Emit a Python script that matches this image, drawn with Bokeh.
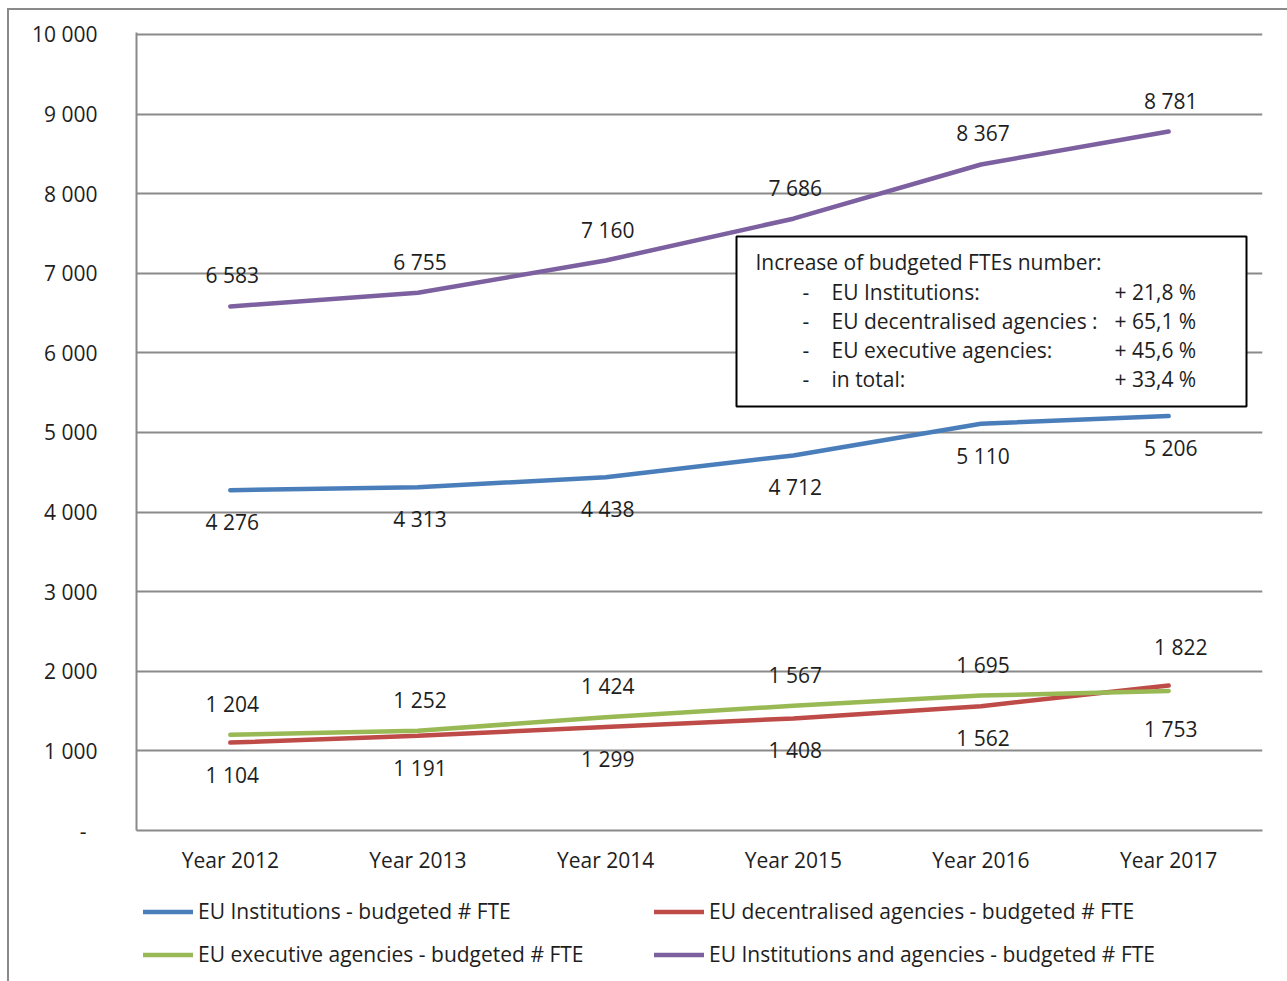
from bokeh.plotting import figure
from bokeh.layouts import column
from bokeh.models import (Range1d, FixedTicker, ColumnDataSource, Legend, LegendItem,
                          BoxAnnotation, Label)
from bokeh.core.properties import value
from bokeh.embed import file_html
from bokeh.resources import INLINE

# ---- data ----
years = ["Year 2012", "Year 2013", "Year 2014", "Year 2015", "Year 2016", "Year 2017"]
institutions = [4276, 4313, 4438, 4712, 5110, 5206]
decentralised = [1104, 1191, 1299, 1408, 1562, 1822]
executive = [1204, 1252, 1424, 1567, 1695, 1753]
total = [6583, 6755, 7160, 7686, 8367, 8781]

series_names = [
    "EU Institutions - budgeted # FTE",
    "EU decentralised agencies - budgeted # FTE",
    "EU executive agencies - budgeted # FTE",
    "EU Institutions and agencies - budgeted # FTE",
]
y_ticks = [0, 1000, 2000, 3000, 4000, 5000, 6000, 7000, 8000, 9000, 10000]

box_title = "Increase of budgeted FTEs number:"
increase_labels = ["EU Institutions:", "EU decentralised agencies :",
                   "EU executive agencies:", "in total:"]
increase_values = ["+ 21,8 %", "+ 65,1 %", "+ 45,6 %", "+ 33,4 %"]

# ---- style ----
FONT = "Open Sans"
FS = "21px"
TXT = "#1e1e1e"
GRID = "#8a8a8a"
BLUE, RED, GREEN, PURPLE = "#4A7EBB", "#BE4B48", "#98B954", "#7D60A0"
colors = [BLUE, RED, GREEN, PURPLE]
LINE_W = 4.5

# page offset of the canvas (outer chart border drawn with CSS)
OX, OY = 9, 10
Y_TOP = 10025          # a little headroom so the 10 000 gridline is fully visible
FRAME_W, FRAME_H = 1126, 798
LEFT, RIGHT, TOP, BOTTOM = 136 - OX, 25, 32 - OY, 55
CANVAS_W = LEFT + FRAME_W + RIGHT
LEGEND_H = 981 - OY - (TOP + FRAME_H + BOTTOM)
LEGEND_INSET = 7

# small hand nudges (px) for the crowded 2017 labels: (series, point) -> (dx, dy)
label_nudge = {(1, 5): (10, -7), (2, 5): (0, 6)}


def fmt(v):
    return f"{v:,}".replace(",", " ")


xs = [i + 0.5 for i in range(len(years))]
series = [institutions, decentralised, executive, total]

p = figure(frame_width=FRAME_W, frame_height=FRAME_H,
           min_border_left=LEFT, min_border_right=RIGHT,
           min_border_top=TOP, min_border_bottom=BOTTOM,
           x_range=Range1d(0, len(years)), y_range=Range1d(0, Y_TOP),
           output_backend="svg", toolbar_location=None,
           background_fill_color="white", border_fill_color="white",
           align="start")
p.outline_line_color = None

# axes
p.xaxis.ticker = FixedTicker(ticks=xs)
p.xaxis.major_label_overrides = {x: y for x, y in zip(xs, years)}
p.yaxis.ticker = FixedTicker(ticks=y_ticks)
p.yaxis.major_label_overrides = {t: (fmt(t) if t else "-\u00a0\u00a0") for t in y_ticks}
for ax in (p.xaxis, p.yaxis):
    ax.axis_line_color = GRID
    ax.axis_line_width = 2
    ax.major_tick_line_color = None
    ax.minor_tick_line_color = None
    ax.major_label_text_font = FONT
    ax.major_label_text_font_size = FS
    ax.major_label_text_color = TXT
p.xaxis.major_label_standoff = 9
p.yaxis.major_label_standoff = 33

p.xgrid.grid_line_color = None
p.ygrid.ticker = FixedTicker(ticks=y_ticks)
p.ygrid.grid_line_color = GRID
p.ygrid.grid_line_width = 2

# series
for vals, col in zip(series, colors):
    p.line(xs, vals, line_color=col, line_width=LINE_W, line_cap="round")


# data labels: the upper series of each pair above its line, the lower one below
def label_series(k, other, force=None):
    vals = series[k]
    xo, yo, txt = [], [], []
    for j, (v, o) in enumerate(zip(vals, other)):
        above = force if force is not None else v >= o
        ndx, ndy = label_nudge.get((k, j), (0, 0))
        xo.append(2 + ndx)
        yo.append((-31 if above else 32) + ndy)
        txt.append(fmt(v))
    src = ColumnDataSource(dict(x=xs, y=vals, xo=xo, yo=yo, t=txt))
    p.text(x="x", y="y", text="t", x_offset="xo", y_offset="yo", source=src,
           text_align="center", text_baseline="middle",
           text_font=value(FONT), text_font_size=FS, text_color=TXT)


label_series(3, institutions, force=True)
label_series(0, total, force=False)
label_series(2, decentralised)
label_series(1, executive)

# text box (page pixel positions converted to data units)
px_x = FRAME_W / len(years)
px_y = FRAME_H / Y_TOP
FRAME_BOTTOM_PAGE = OY + TOP + FRAME_H


def dx(px):
    return (px - 136) / px_x


def dy(py):
    return (FRAME_BOTTOM_PAGE - py) / px_y


p.add_layout(BoxAnnotation(left=dx(736), right=dx(1246), top=dy(236), bottom=dy(406),
                           fill_color="white", fill_alpha=1,
                           line_color="black", line_alpha=1, line_width=2,
                           level="overlay"))


def add_label(x, y, t):
    p.add_layout(Label(x=dx(x), y=dy(y), text=t, text_font=FONT, text_font_size=FS,
                       text_color=TXT, text_baseline="middle", level="overlay"))


add_label(755, 261, box_title)
for i, (lab, val) in enumerate(zip(increase_labels, increase_values)):
    yy = 291 + i * 29.2
    add_label(802, yy, "-")
    add_label(831, yy, lab)
    add_label(1114, yy, val)

# ---- legend strip under the chart ----
# the strip's own ranges keep its copies of the series out of view; only the legend shows
leg_fig = figure(width=CANVAS_W, height=LEGEND_H,
                 min_border_left=LEFT, min_border_right=RIGHT,
                 min_border_top=12 - LEGEND_INSET, min_border_bottom=0,
                 x_range=Range1d(-2, -1), y_range=Range1d(-2, -1),
                 output_backend="svg", toolbar_location=None,
                 background_fill_color="white", border_fill_color="white",
                 align="start")
leg_fig.axis.visible = False
leg_fig.grid.visible = False
leg_fig.outline_line_color = None
swatches = [leg_fig.line(xs, vals, line_color=c, line_width=LINE_W, line_cap="round")
            for vals, c in zip(series, colors)]

legend = Legend(items=[LegendItem(label=n, renderers=[r]) for n, r in zip(series_names, swatches)],
                location="top_left", orientation="horizontal", ncols=2,
                label_text_font=FONT, label_text_font_size=FS, label_text_color=TXT,
                glyph_width=50, glyph_height=21, label_standoff=5,
                label_width=441, spacing=15,
                padding=0, margin=LEGEND_INSET, border_line_color=None, background_fill_alpha=0)
leg_fig.add_layout(legend)

layout = column(p, leg_fig, spacing=0,
                styles={"margin-left": "7px", "margin-top": "8px",
                        "border-left": f"2px solid {GRID}", "border-top": f"2px solid {GRID}"})

open("out.html", "w").write(file_html(layout, INLINE))
